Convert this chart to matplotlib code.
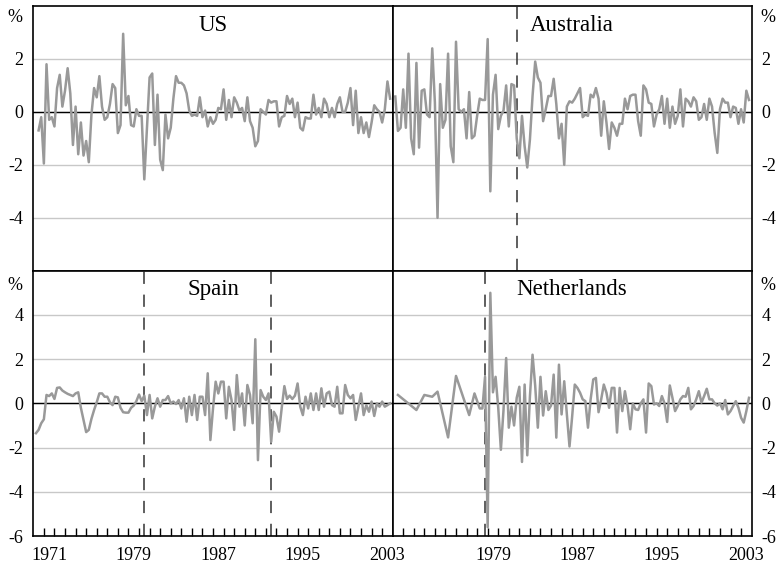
import matplotlib
matplotlib.use('Agg')
import matplotlib.pyplot as plt
from matplotlib.ticker import FuncFormatter
import numpy as np

plt.rcParams['font.family'] = ['Liberation Serif', 'DejaVu Serif']

# quarterly values, %
us_start = 1970.5
us = [-0.7, -0.2, -1.95, 1.8, -0.3, -0.2, -0.55, 0.9, 1.4, 0.2,
      0.8, 1.65, 0.7, -1.25, 0.2, -1.6, -0.4, -1.65, -1.1, -1.9,
      -0.1, 0.9, 0.55, 1.35, 0.2, -0.3, -0.2, 0.3, 1.05, 0.9,
      -0.8, -0.5, 2.95, 0.25, 0.6, -0.5, -0.55, 0.1, -0.15, -0.15,
      -2.55, -0.6, 1.3, 1.45, -1.25, 0.65, -1.8, -2.2, -0.1, -1.0,
      -0.6, 0.5, 1.35, 1.1, 1.1, 1.0, 0.7, 0.05, -0.15, -0.1,
      -0.15, 0.55, -0.2, 0.05, -0.55, -0.2, -0.45, -0.3, 0.15, 0.1,
      0.85, -0.3, 0.45, -0.2, 0.55, 0.35, 0.05, 0.15, -0.35, 0.55,
      -0.35, -0.6, -1.3, -1.1, 0.1, 0.0, -0.1, 0.45, 0.35, 0.4,
      0.4, -0.55, -0.2, -0.15, 0.6, 0.3, 0.5, -0.2, 0.35, -0.6,
      -0.7, -0.2, -0.25, -0.25, 0.65, -0.1, 0.15, -0.2, 0.5, 0.3,
      -0.2, 0.15, -0.2, 0.3, 0.55, 0.0, 0.0, 0.35, 0.9, -0.5,
      0.8, -0.8, -0.2, -0.8, -0.4, -0.95, -0.4, 0.25, 0.1, 0.0,
      -0.4, 0.1, 1.15, 0.5]

aus_start = 1970.25
australia = [0.58, -0.72, -0.6, 0.85, -0.6, 2.2, -1.0, -1.6, 1.85, -1.35,
             0.8, 0.85, -0.1, -0.2, 2.4, 0.35, -4.0, 1.05, -0.6, -0.3,
             2.2, -1.3, -1.9, 2.65, 0.1, 0.0, 0.1, -1.0, 0.75, -1.0,
             -0.9, -0.15, 0.5, 0.45, 0.45, 2.75, -3.0, 0.65, 1.4, -0.65,
             -0.15, 0.05, 1.0, -0.55, 1.05, 1.0, -1.0, -1.75, -0.15, -1.3,
             -2.1, -1.05, 0.6, 1.9, 1.3, 1.1, -0.35, 0.1, 0.6, 0.6,
             1.25, 0.3, -1.0, -0.45, -2.0, 0.2, 0.4, 0.35,
             0.5, 0.7, 0.9, -0.2, -0.1, -0.15, 0.65, 0.55, 0.9,
             0.5, -0.9, 0.4, -0.4, -1.4, -0.4, -0.6, -0.9, -0.45, -0.45,
             0.5, 0.1, 0.6, 0.65, 0.65, -0.35, -0.9, 1.0, 0.85, 0.35,
             0.3, -0.55, -0.1, 0.1, 0.6, -0.45, 0.5, -0.6, 0.2, -0.45,
             -0.15, 0.85, -0.55, 0.5, 0.4, 0.2, 0.55, 0.4, -0.3, -0.2,
             0.3, -0.3, 0.5, 0.2, -0.8, -1.55, 0.1, 0.5, 0.35, 0.35,
             -0.2, 0.2, 0.15, -0.45, 0.1, -0.4, 0.8, 0.45]

spain_start = 1970.25
spain = [-1.35, -1.2, -0.9, -0.72, 0.38, 0.33, 0.45, 0.2, 0.7, 0.72, 0.58,
         0.5, 0.43, 0.38, 0.33, 0.45, 0.5, -0.2, -0.75, -1.3, -1.2,
         -0.7, -0.3, 0.05, 0.45, 0.45, 0.3, 0.3, 0.05, -0.08, 0.3,
         0.27, -0.2, -0.4, -0.42, -0.42, -0.2, -0.1, 0.1, 0.4, 0.1, 0.35,
         -0.53, 0.38, -0.68, -0.15, 0.23, -0.15, 0.15, 0.15, 0.33, 0.0,
         0.08, -0.03, 0.15, -0.23, 0.23, -0.83, 0.3, -0.53, 0.38, -0.75,
         0.3, 0.3, -0.53, 1.36, -1.66, -0.23, 0.98, 0.45, 0.98, 0.98,
         -0.68, 0.75, 0.15, -1.2, 1.28, -0.15, 0.45, -1.0, 0.83, 0.38,
         -0.9, 2.9, -2.57, 0.6, 0.3, 0.15, 0.45,
         -1.74, -0.38, -0.6, -1.28, -0.2, 0.78, 0.2, 0.35, 0.2, 0.35,
         0.9, -0.15, -0.53, 0.3, -0.23, 0.45, -0.3, 0.45, -0.3, 0.68,
         -0.15, 0.45, 0.53, -0.08, -0.15, 0.75, -0.45, -0.45, 0.83, 0.38,
         0.23, 0.38, -0.75, -0.15, 0.45, -0.53, -0.08, -0.38, 0.08, -0.57,
         0.0, -0.15, 0.08, -0.15, -0.08, 0.0]

# Netherlands: sparse points before 1979, quarterly afterwards
neth_early_dates = [1970.5, 1972.25, 1973.0, 1973.75, 1974.25, 1975.25,
                    1976.0, 1977.25, 1977.75, 1978.25, 1978.5, 1978.75]
neth_early = [0.38, -0.3, 0.38, 0.3, 0.53, -1.54, 1.24, -0.53, 0.45, -0.23, -0.23, 1.2]
neth_start = 1979.0
neth = [-5.6, 5.0, 0.5, 1.2, -0.2, -2.1, -0.3, 2.05, -1.1, -0.15,
        -1.0, 0.25, 0.75, -2.65, 0.85, -2.35, 0.3, 2.2, 0.8, -1.1,
        1.2, -0.55, 0.55, -0.3, -0.1, 1.3, -1.55, 1.75, -0.5, 1.0,
        -0.5, -1.95, -0.6, 0.85, 0.7, 0.48, 0.18, 0.1, -1.1, 0.18,
        1.08, 1.15, -0.4, 0.18, 0.85, 0.48, -0.2, 0.7, 0.7, -1.32,
        0.7, -0.35, 0.55, -0.12, -1.17, 0.0, -0.27, -0.3, 0.0, 0.18,
        -1.32, 0.9, 0.78, -0.05, 0.0, -0.12, 0.33, 0.0, -0.84, 0.81,
        0.25, -0.35, -0.12, 0.18, 0.33, 0.3, 0.7, -0.27, -0.12, 0.18,
        0.55, 0.03, 0.33, 0.66, 0.18, 0.18, 0.0, -0.1, 0.0, -0.27,
        0.15, -0.5, -0.35, -0.12, 0.1, -0.2, -0.65, -0.87, -0.35, 0.25]

breaks = {'US': [], 'Australia': [1981.75], 'Spain': [1980.5, 1992.5],
          'Netherlands': [1978.75]}


def quarters(start, n):
    return start + 0.25 * np.arange(n)


series = {
    'US': (quarters(us_start, len(us)), us),
    'Australia': (quarters(aus_start, len(australia)), australia),
    'Spain': (quarters(spain_start, len(spain)), spain),
    'Netherlands': (np.concatenate([neth_early_dates, quarters(neth_start, len(neth))]),
                    neth_early + neth),
}

fig = plt.figure(figsize=(7.78, 5.66), dpi=100)
cols = [(0.0428, 0.462), (0.5047, 0.4614)]
rows = [(0.5217, 0.4677), (0.053, 0.4687)]
layout = [('US', 0, 0), ('Australia', 0, 1), ('Spain', 1, 0), ('Netherlands', 1, 1)]

fmt = FuncFormatter(lambda v, p: '%d' % v)

for name, r, c in layout:
    ax = fig.add_axes([cols[c][0], rows[r][0], cols[c][1], rows[r][1]])
    x, y = series[name]
    if r == 0:
        ax.set_ylim(-6, 4)
        ax.set_yticks([-4, -2, 0, 2])
        pct_y = 0.955
    else:
        ax.set_ylim(-6, 6)
        ax.set_yticks([-6, -4, -2, 0, 2, 4])
        pct_y = 0.946
    ax.set_xlim(1970, 2004)
    ax.yaxis.grid(True, color='#c8c8c8', lw=1.0)
    ax.set_axisbelow(True)
    ax.axhline(0, color='black', lw=1.0, zorder=2)
    for b in breaks[name]:
        ax.axvline(b, color='#333333', lw=1.1, dashes=(8, 7), zorder=2)
    ax.plot(x, y, color='#999999', lw=1.8, zorder=3)

    ax.yaxis.set_major_formatter(fmt)
    ax.tick_params(axis='y', length=0, pad=7, labelsize=13)
    if c == 1:
        ax.yaxis.tick_right()
        ax.text(1.045, pct_y, '%', transform=ax.transAxes, ha='center', va='center', fontsize=13)
    else:
        ax.text(-0.051, pct_y, '%', transform=ax.transAxes, ha='center', va='center', fontsize=13)

    if r == 1:
        ax.set_xticks(range(1971, 2004))
        ax.set_xticklabels([])
        lab_years = [1971, 1979, 1987, 1995, 2003] if c == 0 else [1979, 1987, 1995, 2003]
        ax.set_xticks([yr + 0.5 for yr in lab_years], minor=True)
        ax.set_xticklabels([str(yr) for yr in lab_years], minor=True)
        ax.tick_params(axis='x', which='major', direction='in', length=6, width=1, top=False)
        ax.tick_params(axis='x', which='minor', length=0, pad=8, labelsize=13)
    else:
        ax.set_xticks([])

    for s in ax.spines.values():
        s.set_linewidth(1.2)

    ax.text(0.5, 0.928, name, transform=ax.transAxes, ha='center', va='center', fontsize=16.5)

fig.savefig('out.png', dpi=100)
